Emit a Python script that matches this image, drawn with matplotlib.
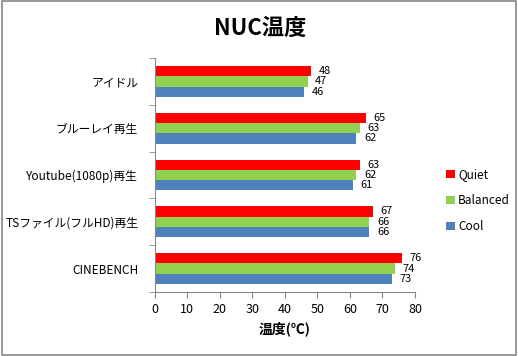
import numpy as np
import matplotlib.pyplot as plt
from matplotlib.patches import Rectangle

plt.rcParams['font.family'] = ['Noto Sans CJK JP', 'DejaVu Sans']

categories = ['アイドル', 'ブルーレイ再生', 'Youtube(1080p)再生', 'TSファイル(フルHD)再生', 'CINEBENCH']
quiet = [48, 65, 63, 67, 76]
balanced = [47, 63, 62, 66, 74]
cool = [46, 62, 61, 66, 73]

series = [('Quiet', quiet, '#FF0000'),
          ('Balanced', balanced, '#92D050'),
          ('Cool', cool, '#4F81BD')]

fig = plt.figure(figsize=(5.18, 3.56), dpi=100)
ax = fig.add_axes([0.299, 0.180, 0.502, 0.657])

# outer frame of the chart area
fig.patches.append(Rectangle((0.003, 0.003), 0.994, 0.994, transform=fig.transFigure,
                             fill=False, edgecolor='#888888', linewidth=1.2))

y = np.arange(len(categories))
h = 0.22
for i, (name, vals, col) in enumerate(series):
    pos = y - h + i * h
    bars = ax.barh(pos, vals, height=h, color=col, label=name)
    for b, v in zip(bars, vals):
        ax.text(v + 2.3, b.get_y() + h / 2, str(v), va='center', ha='left', fontsize=7.9)

ax.set_ylim(len(categories) - 0.5, -0.5)
ax.set_xlim(0, 80)
ax.set_xticks(range(0, 81, 10))
ax.set_yticks(y)
ax.set_yticklabels(categories, fontsize=8.5)
ax.set_yticks(np.arange(-0.5, len(categories), 1), minor=True)
ax.tick_params(axis='y', which='major', length=0, pad=12)
ax.tick_params(axis='y', which='minor', length=4, color='#888888', direction='out')
ax.tick_params(axis='x', length=4, color='#888888', labelsize=9, pad=4)

for s in ['top', 'right']:
    ax.spines[s].set_visible(False)
for s in ['left', 'bottom']:
    ax.spines[s].set_color('#888888')

ax.set_xlabel('温度(℃)', fontsize=10, fontweight='bold', labelpad=4)
fig.text(0.502, 0.92, 'NUC温度', ha='center', va='center', fontsize=16, fontweight='bold')

ax.legend(loc='center left', bbox_to_anchor=(1.08, 0.39), frameon=False, fontsize=8.5,
          handlelength=0.7, handleheight=0.7, handletextpad=0.3, labelspacing=1.1)

fig.savefig('out.png', dpi=100)
